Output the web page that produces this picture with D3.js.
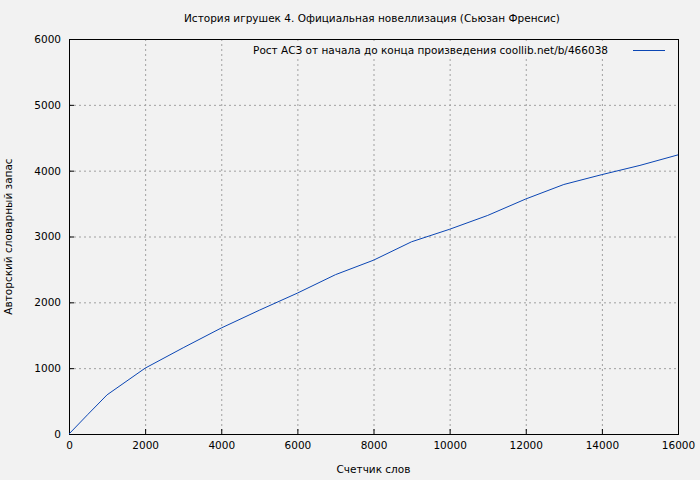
<!DOCTYPE html>
<html><head><meta charset="utf-8">
<script src="https://cdn.jsdelivr.net/npm/d3@7"></script>
<style>
body{margin:0;background:#f2f2f2;}
text{font-family:"DejaVu Sans",sans-serif;font-size:10.5px;fill:#000;}
</style></head><body>
<svg width="700" height="480"></svg>
<script>
const words = [0, 500, 1000, 2000, 3000, 4000, 5000, 6000, 7000, 8000, 9000, 10000, 11000, 12000, 13000, 14000, 15000, 16000];
const vocab = [0, 300, 595, 1000, 1310, 1610, 1880, 2140, 2420, 2640, 2920, 3110, 3320, 3570, 3790, 3940, 4080, 4240];
const xTicks = d3.range(0, 16001, 2000);
const yTicks = d3.range(0, 6001, 1000);
const title = 'История игрушек 4. Официальная новеллизация (Сьюзан Френсис)';
const legendLabel = 'Рост АСЗ от начала до конца произведения coollib.net/b/466038';

const svg = d3.select('svg');
const margin = { top: 39, right: 22, bottom: 46, left: 69 };
const innerWidth = 700 - margin.left - margin.right;
const innerHeight = 480 - margin.top - margin.bottom;

const xScale = d3.scaleLinear().domain([0, 16000]).range([0, innerWidth]);
const yScale = d3.scaleLinear().domain([0, 6000]).range([innerHeight, 0]);

const g = svg.append('g').attr('transform', `translate(${margin.left},${margin.top})`);

// grid
g.selectAll('.gx').data(xTicks.slice(1, -1)).enter().append('line')
  .attr('x1', d => xScale(d) + 0.5).attr('x2', d => xScale(d) + 0.5)
  .attr('y1', 0).attr('y2', innerHeight)
  .attr('stroke', '#a0a0a0').attr('stroke-dasharray', '2,3');
g.selectAll('.gy').data(yTicks.slice(1, -1)).enter().append('line')
  .attr('y1', d => yScale(d) + 0.5).attr('y2', d => yScale(d) + 0.5)
  .attr('x1', 0).attr('x2', innerWidth)
  .attr('stroke', '#a0a0a0').attr('stroke-dasharray', '2,3');

// clear area behind legend
g.append('rect').attr('x', 192).attr('y', 2).attr('width', 413).attr('height', 18).attr('fill', '#f2f2f2');

const xAxis = d3.axisBottom(xScale).tickValues(xTicks).tickSize(-5).tickPadding(8).tickFormat(d3.format('d'));
const yAxis = d3.axisLeft(yScale).tickValues(yTicks).tickSize(-5).tickPadding(8).tickFormat(d3.format('d'));
const xAxisG = g.append('g').attr('transform', `translate(0,${innerHeight})`).call(xAxis);
const yAxisG = g.append('g').call(yAxis);
[xAxisG, yAxisG].forEach(a => {
  a.select('.domain').remove();
  a.selectAll('line').attr('stroke', '#000');
  a.selectAll('text').style('font-size', '10.5px').style('font-family', '"DejaVu Sans",sans-serif');
});

g.append('rect').attr('x', 0.5).attr('y', 0.5).attr('width', innerWidth).attr('height', innerHeight)
  .attr('fill', 'none').attr('stroke', '#000');

g.append('path').datum(words.map((w, i) => [w, vocab[i]]))
  .attr('d', d3.line().x(d => xScale(d[0])).y(d => yScale(d[1])))
  .attr('fill', 'none').attr('stroke', '#0b46b4').attr('stroke-width', 1);

// legend
g.append('text').attr('x', 539).attr('y', 15).attr('text-anchor', 'end').text(legendLabel);
g.append('line').attr('x1', 564).attr('x2', 596).attr('y1', 11.5).attr('y2', 11.5).attr('stroke', '#0b46b4');

svg.append('text').attr('x', 372).attr('y', 22).attr('text-anchor', 'middle').text(title);
svg.append('text').attr('x', margin.left + innerWidth / 2).attr('y', 473).attr('text-anchor', 'middle').text('Счетчик слов');
svg.append('text').attr('transform', `translate(12,${margin.top + innerHeight / 2}) rotate(-90)`)
  .attr('text-anchor', 'middle').text('Авторский словарный запас');
</script></body></html>
